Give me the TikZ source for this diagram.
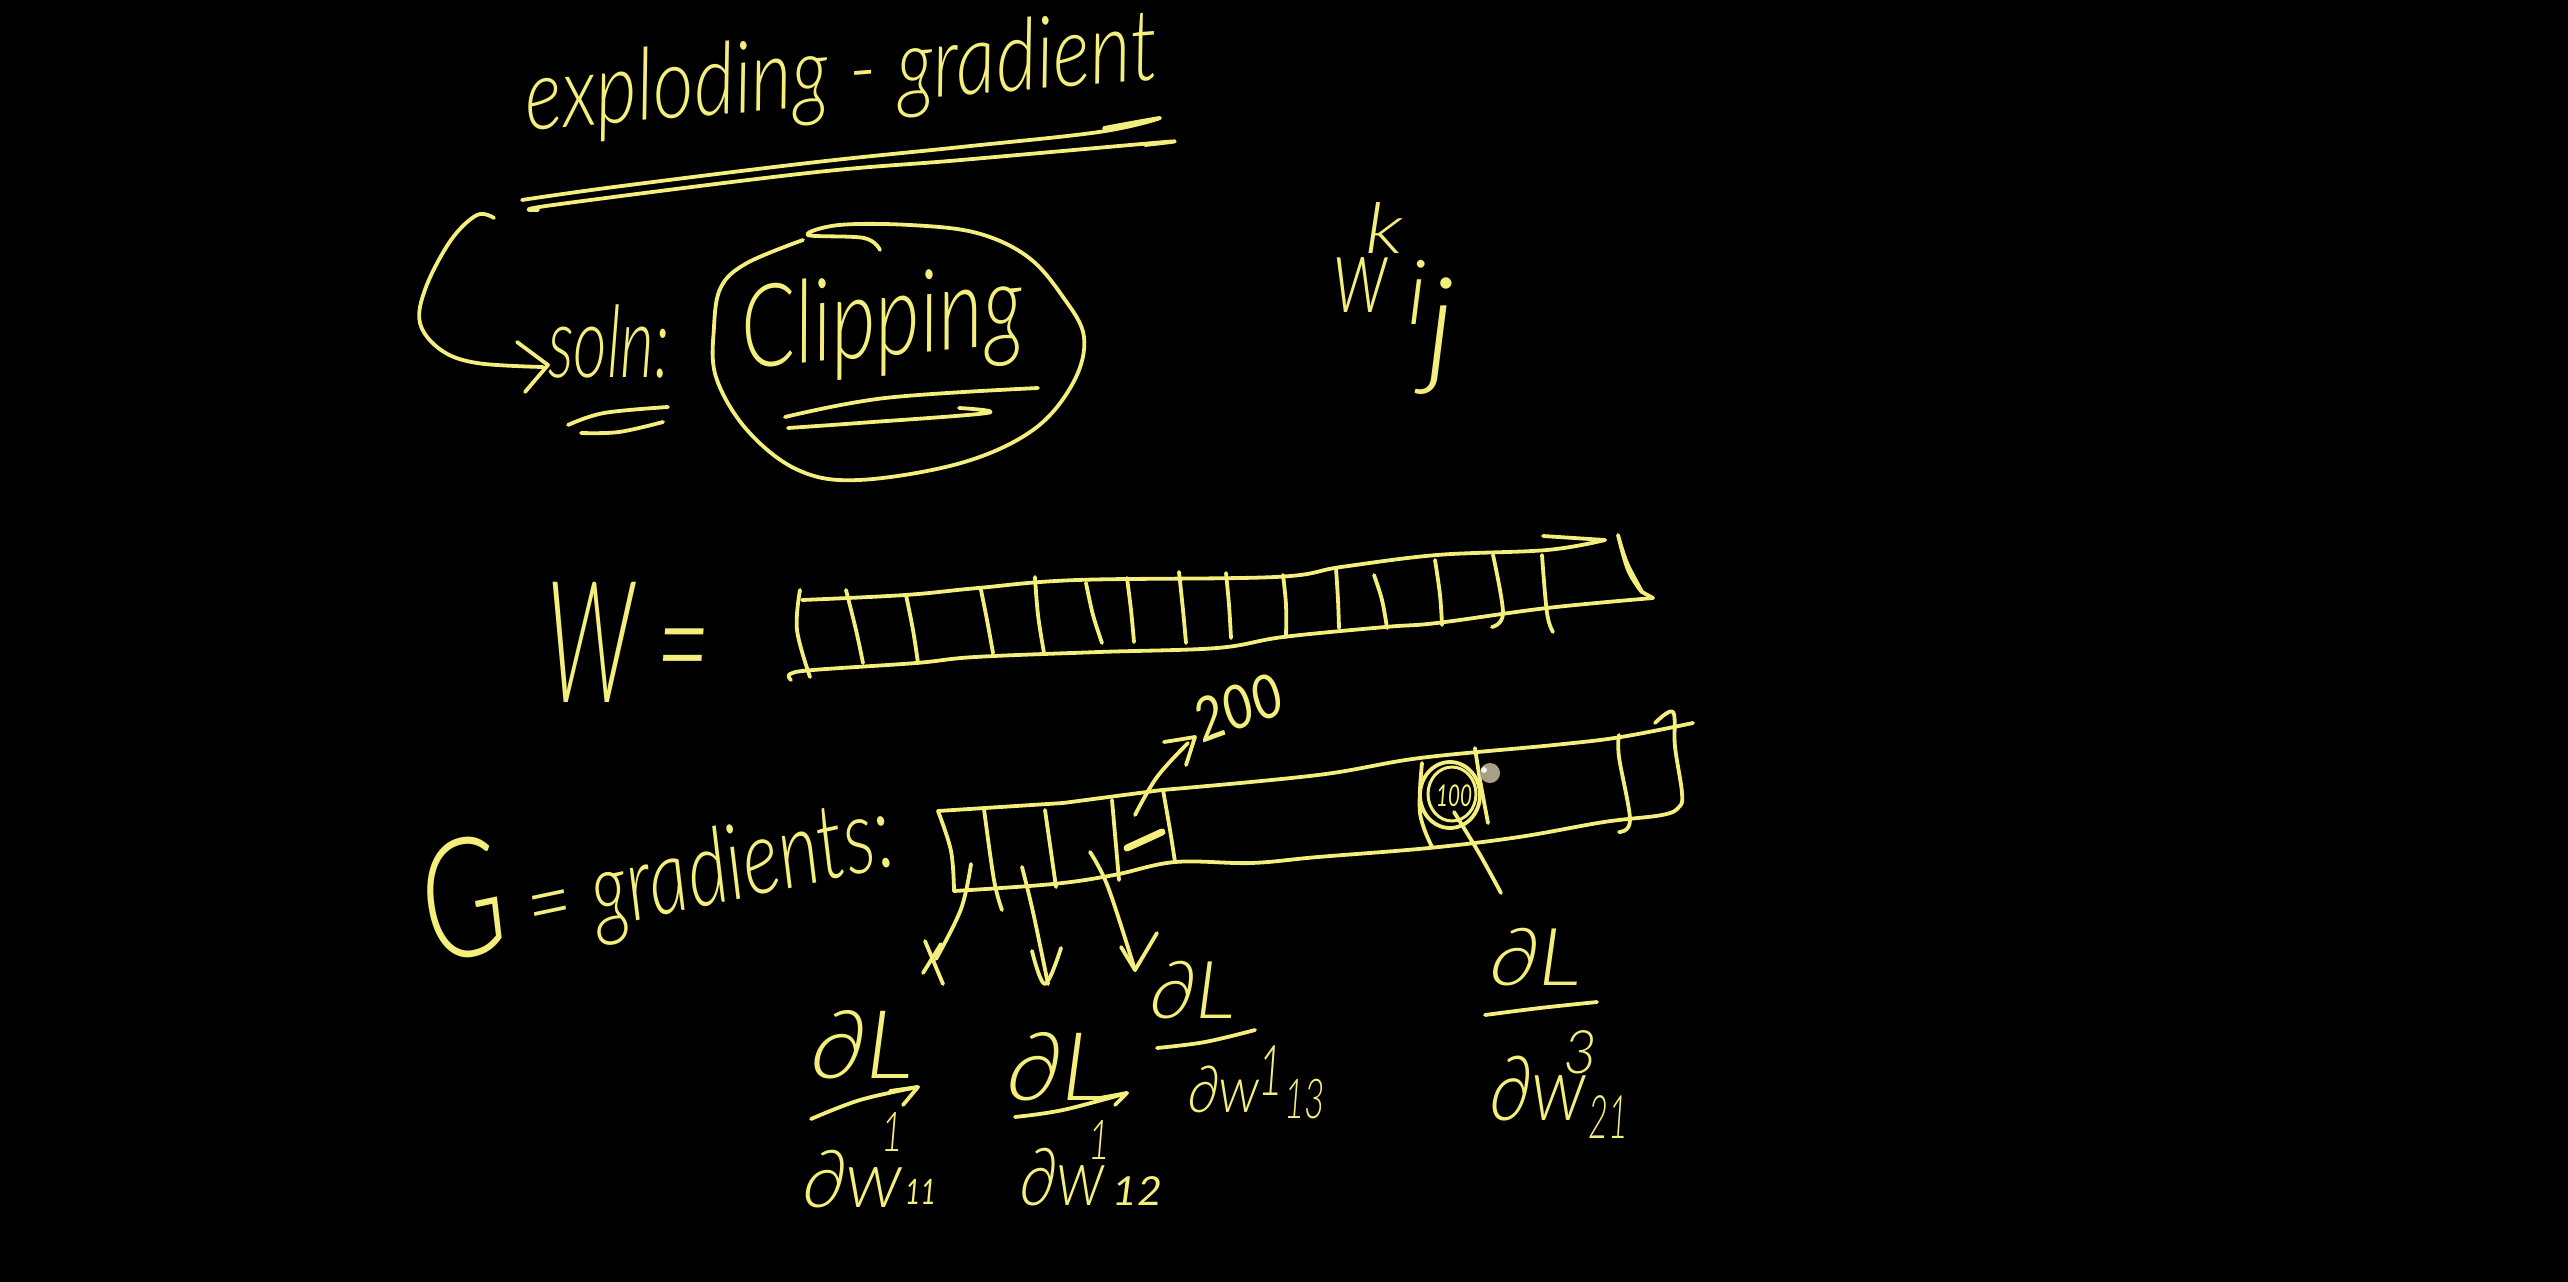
\documentclass[tikz,border=0pt]{standalone}
\usepackage{graphicx}
\usepackage{fontspec}
\newfontfamily\hand{Lato Light Italic}
\newfontfamily\handb{Lato Italic}
\definecolor{penyellow}{HTML}{F4EE7C}
\definecolor{cursorgrey}{HTML}{A89F84}
\newcommand{\hwt}[7]{\node[handtext,rotate=#4] (#1) at (#2,#3) {\resizebox{#6pt}{\height}{\fontsize{#5pt}{#5pt}\selectfont #7}};}
\newcommand{\hwb}[7]{\node[handtext,rotate=#4] (#1) at (#2,#3) {\resizebox{#6pt}{\height}{\handb\fontsize{#5pt}{#5pt}\selectfont #7}};}
\newcommand{\stroke}[1]{\draw[pen] plot[smooth,tension=.6] coordinates {#1};}
\newcommand{\polyl}[1]{\draw[pen] plot coordinates {#1};}
\begin{document}
\begin{tikzpicture}[x=1pt,y=-1pt,
  handtext/.style={anchor=base west,inner sep=0pt,outer sep=0pt,text=penyellow,font=\hand},
  pen/.style={draw=penyellow,line width=3.8pt,line cap=round,line join=round}]
\fill[black] (0,0) rectangle (2568,1282);
\useasboundingbox (0,0) rectangle (2568,1282);
% title
\hwt{title}{527}{130}{4.6}{100}{635}{exploding - gradient}
\stroke{(522,200)(614,187)(808,163)(961,147)(1099,132)(1160,118)(1104,128)}
\stroke{(538,210)(553,205)(808,173)(961,160)(1165,142)(1145,145)}
% loop arrow and soln
\stroke{(494,218)(477,215)(451,240)(426,287)(420,323)(441,350)(477,363)(543,367)}
\polyl{(517,342)(548,365)(525,392)}
\hwt{soln}{548}{377}{0}{100}{122}{soln:}
\stroke{(568,425)(604,413)(668,407)}
\stroke{(581,433)(619,432)(663,422)}
% clipping
\stroke{(880,250)(864,238)(808,235)(839,225)(910,225)(977,233)(1028,257)(1063,297)(1084,337)(1073,383)(1033,430)(961,463)(859,480)(798,470)(747,430)(716,377)(714,327)(721,287)(747,263)(803,240)}
\hwt{clip}{744}{368}{5}{115}{283}{Clipping}
\stroke{(785,417)(885,398)(1038,388)}
\stroke{(788,428)(859,423)(987,413)(959,408)}
% w k ij
\hwt{wij}{1333}{312}{0}{110}{55}{w}
\hwt{wk}{1365}{253}{0}{70}{38}{k}
\hwt{wsub}{1407}{370}{0}{130}{48}{{\fontsize{90pt}{90pt}\selectfont\raisebox{46pt}{i}}j}
% W vector
\hwt{wvec}{546}{702}{0}{170}{165}{W =}
\stroke{(802,600)(905,595)(978,588)(1077,580)(1275,577)(1341,567)(1437,555)(1547,550)(1605,540)}
\polyl{(1605,540)(1543,536)}
\stroke{(1618,535)(1627,563)(1642,592)(1628,570)(1618,535)}
\stroke{(1653,598)(1547,608)(1437,623)(1385,627)(1283,637)(1217,648)(1099,652)(975,657)(916,663)(813,670)(790,674)(791,680)}
\polyl{(1642,592)(1653,598)}
\stroke{(800,590)(797,630)(810,677)}
\stroke{(846,590)(856,630)(863,663)}
\stroke{(906,595)(913,630)(918,663)}
\stroke{(981,590)(987,620)(993,653)}
\stroke{(1035,577)(1038,615)(1044,653)}
\stroke{(1086,583)(1093,615)(1102,643)}
\stroke{(1127,578)(1131,610)(1134,642)}
\stroke{(1179,572)(1183,610)(1186,643)}
\stroke{(1226,573)(1229,605)(1231,638)}
\stroke{(1283,575)(1286,605)(1286,637)}
\stroke{(1336,568)(1338,600)(1339,628)}
\stroke{(1374,575)(1382,600)(1387,628)}
\stroke{(1435,560)(1440,595)(1442,625)}
\stroke{(1493,555)(1503,613)(1492,627)}
\stroke{(1542,555)(1547,613)(1553,632)}
% G vector
\hwt{gvec}{433}{964}{12}{105}{476}{{\fontsize{165pt}{165pt}\selectfont G}{\fontsize{105pt}{105pt}\selectfont\ =\ }gradients:}
\stroke{(1162,790)(1318,775)(1420,758)(1554,745)(1621,737)(1693,723)}
\polyl{(938,811)(1063,803)(1162,790)}
\stroke{(938,811)(951,851)(954,891)}
\stroke{(954,891)(1053,884)(1114,875)(1175,862)(1251,863)(1318,857)(1429,848)(1519,837)(1604,822)(1662,815)(1679,807)(1682,793)(1675,747)(1673,712)(1655,723)}
\stroke{(984,809)(994,880)(1002,910)}
\stroke{(1045,810)(1056,887)}
\stroke{(1112,800)(1119,880)}
\stroke{(1163,790)(1170,830)(1175,862)}
\draw[pen,line width=7pt] (1127,848) -- (1162,832);
\stroke{(1135,815)(1157,777)(1188,743)}
\polyl{(1164,742)(1195,737)(1186,765)}
\hwb{twoh}{1202}{743}{20}{60}{92}{200}
% circled value
\stroke{(1422,763)(1420,813)(1432,847)}
\stroke{(1475,748)(1480,780)(1488,823)}
\stroke{(1619,735)(1619,757)(1630,820)(1619,832)}
\draw[pen] (1450,795) ellipse (30pt and 33pt);
\draw[pen,line width=3pt] (1452,794) ellipse (24pt and 27pt);
\hwb{hund}{1436}{806}{0}{30}{36}{100}
\stroke{(1454,812)(1479,853)(1501,893)}
\fill[cursorgrey] (1490,773) ellipse (10pt and 10pt);
\fill[white!85!cursorgrey] (1484,770) circle (3pt);
% arrows to fractions
\stroke{(971,864)(961,909)(936,959)}
\polyl{(925,941)(943,984)}
\polyl{(923,973)(941,944)}
\stroke{(1022,867)(1033,912)(1048,984)}
\stroke{(1032,951)(1045,984)(1061,948)}
\stroke{(1090,852)(1108,887)(1135,970)}
\polyl{(1121,947)(1135,970)(1157,933)}
% fraction 1
\hwt{fa}{811}{1078}{0}{95}{102}{∂L}
\stroke{(811,1119)(860,1100)(918,1087)}
\polyl{(890,1091)(918,1087)(903,1105)}
\hwt{fad}{803}{1207}{0}{80}{100}{∂w}
\hwt{fas}{881}{1151}{0}{55}{22}{1}
\hwb{fab}{905}{1204}{0}{35}{31}{11}
% fraction 2
\hwt{fb}{1007}{1100}{0}{95}{102}{∂L}
\stroke{(1015,1117)(1063,1110)(1127,1093)}
\polyl{(1100,1098)(1127,1093)(1115,1105)}
\hwt{fbd}{1020}{1205}{0}{80}{85}{∂w}
\hwt{fbs}{1088}{1159}{0}{55}{22}{1}
\hwb{fbb}{1112}{1205}{0}{40}{50}{12}
% fraction 3
\hwt{fc}{1150}{1018}{0}{80}{85}{∂L}
\stroke{(1157,1048)(1205,1042)(1255,1030)}
\hwt{fcd}{1188}{1112}{0}{65}{72}{∂w}
\hwt{fcs}{1258}{1095}{0}{70}{25}{1}
\hwt{fcb}{1284}{1118}{0}{55}{41}{13}
% fraction 4
\hwt{fd}{1490}{985}{0}{80}{91}{∂L}
\stroke{(1485,1015)(1540,1008)(1597,1002)}
\hwt{fdd}{1490}{1120}{0}{90}{96}{∂w}
\hwt{fds}{1563}{1073}{0}{60}{34}{3}
\hwt{fdb}{1588}{1138}{0}{60}{40}{21}
\end{tikzpicture}
\end{document}
